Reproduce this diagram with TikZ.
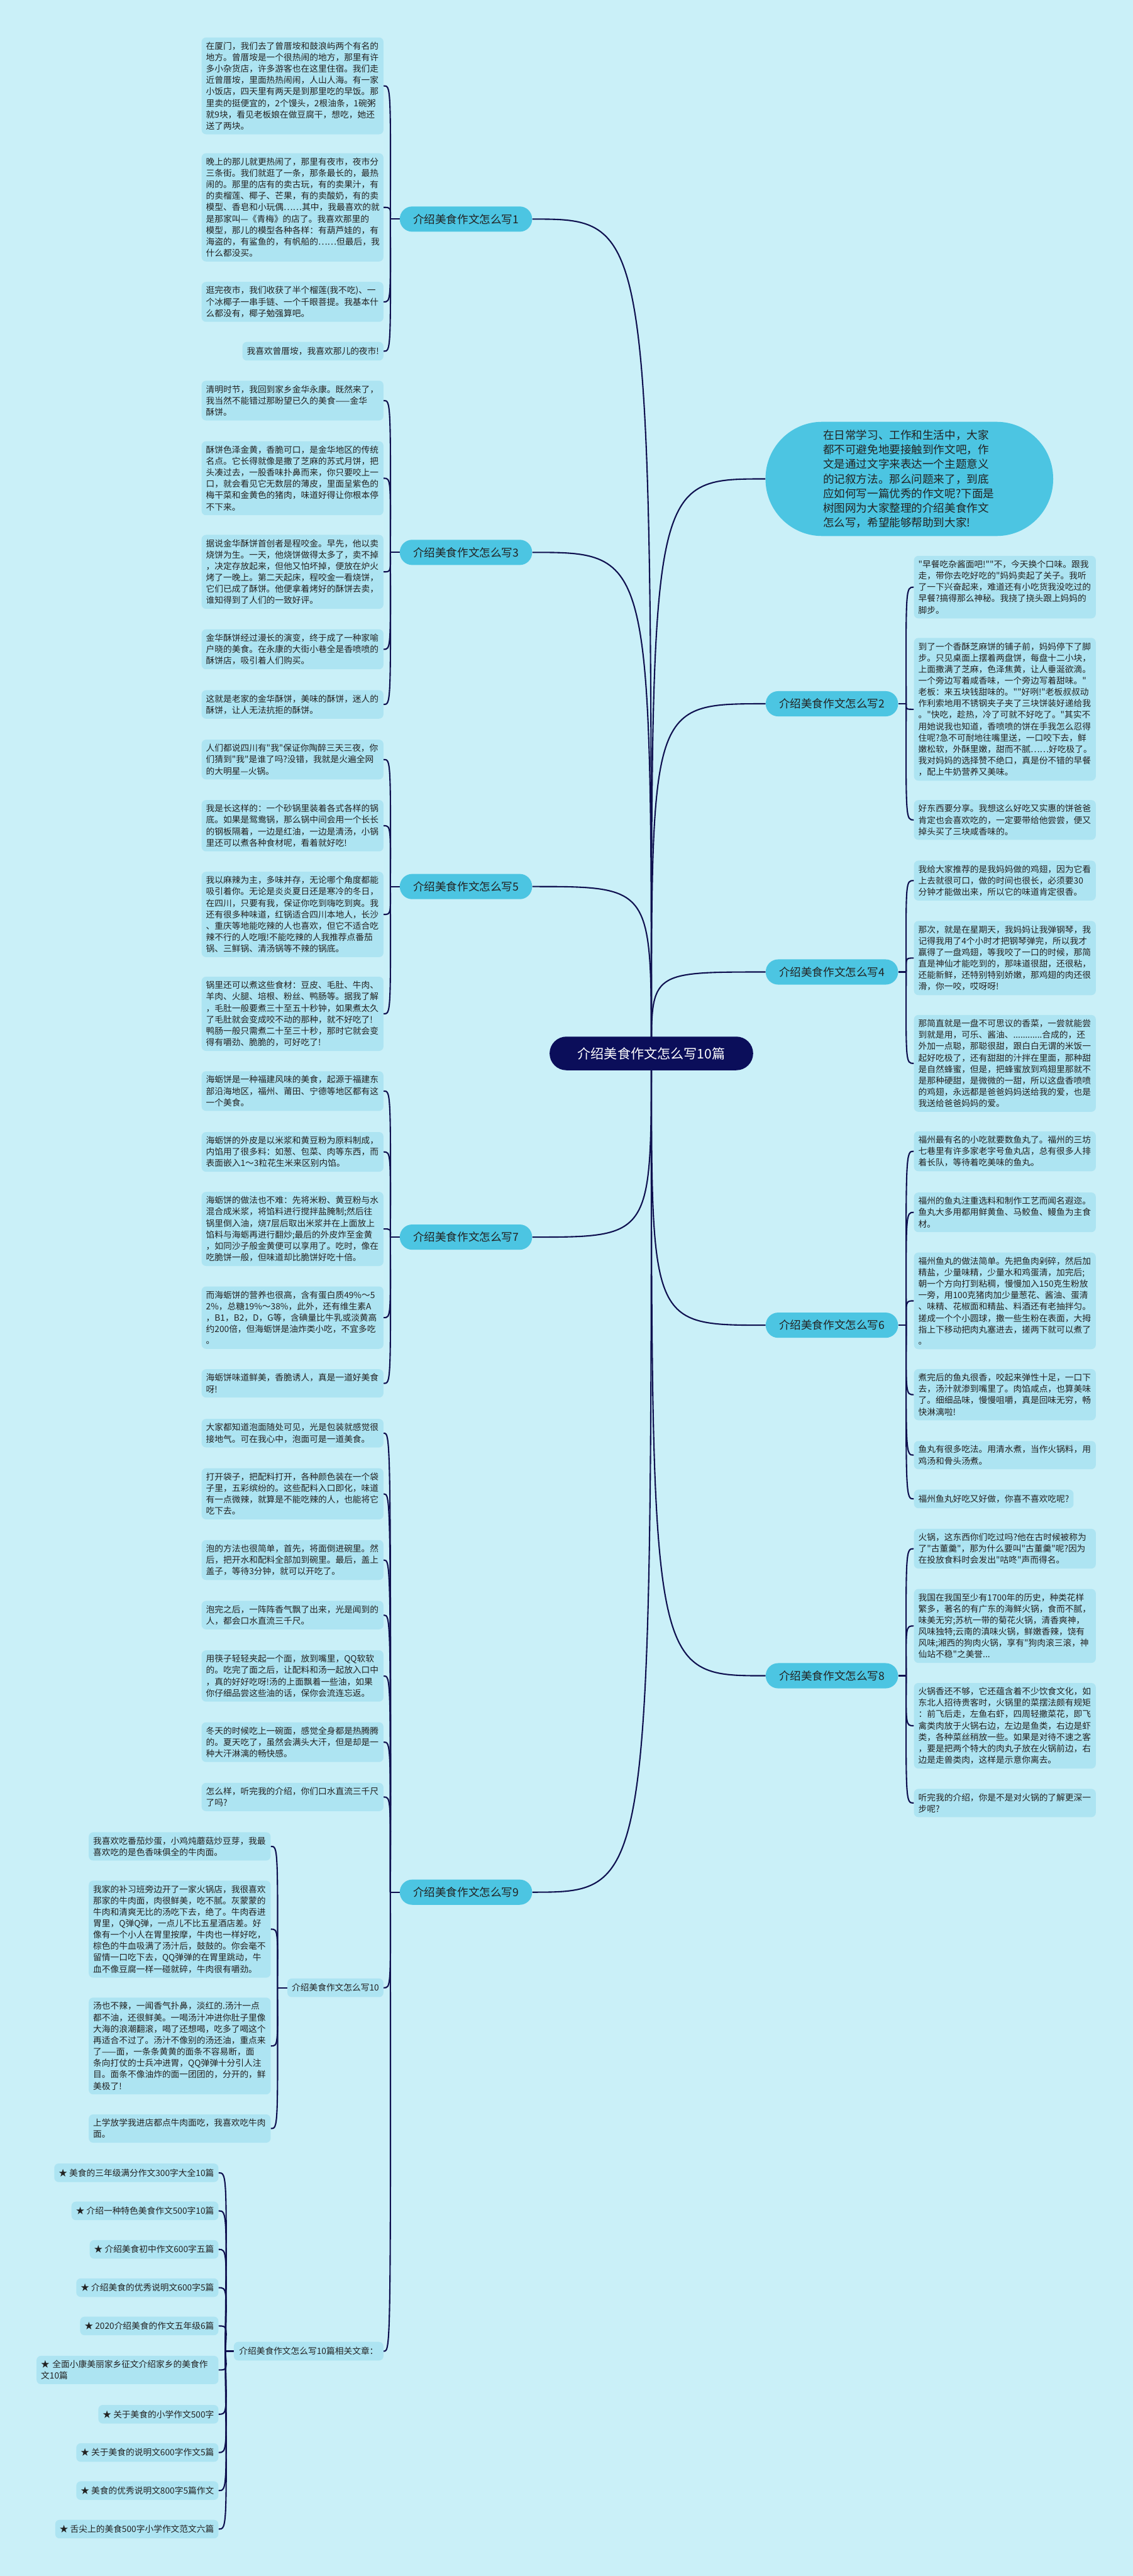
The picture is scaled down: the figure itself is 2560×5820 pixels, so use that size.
\documentclass[tikz,border=0pt]{standalone}
\usepackage{fontspec}
\setmainfont{Noto Sans CJK SC}
\newfontfamily\cjkfont{Noto Sans CJK SC}
\usepackage{tikz}
\definecolor{bgc}{HTML}{CAF0F8}
\definecolor{leafc}{HTML}{ADE4F2}
\definecolor{topicc}{HTML}{4CC5E2}
\definecolor{rootc}{HTML}{0B0E5A}
\definecolor{linec}{HTML}{0F1150}
\definecolor{textc}{HTML}{222222}
\newcommand{\leaffont}{\cjkfont\fontsize{9.75pt}{12.9pt}\selectfont}
\newcommand{\topicfont}{\cjkfont\fontsize{12.5pt}{16.5pt}\selectfont}
\tikzstyle{leaf}=[fill=leafc, text=textc, rounded corners=5pt, inner xsep=5pt, inner ysep=5pt, minimum height=21pt, font=\leaffont]
\tikzstyle{lbox}=[leaf, text width=195.5pt, align=left]
\tikzstyle{topic}=[fill=topicc, text=textc, rounded corners=14pt, minimum width=149.5pt, minimum height=28.5pt, font=\topicfont]
\tikzstyle{rootnode}=[fill=rootc, text=white, rounded corners=19pt, minimum width=230pt, minimum height=38pt, font=\cjkfont\fontsize{15pt}{18pt}\selectfont]
\tikzstyle{lnk}=[draw=linec, line width=1.5pt]
\pgfdeclarelayer{bg}
\pgfsetlayers{bg,main}

\begin{document}
\begin{tikzpicture}[x=0.5pt, y=-0.5pt]

      \useasboundingbox (0,0) rectangle (2560,5820);
      \begin{pgfonlayer}{bg}
        \fill[bgc] (0,0) rectangle (2560,5820);
      \end{pgfonlayer}

      \node[rootnode] (root) at (1472,2380) {介绍美食作文怎么写10篇};

      \node[topic] (t1) at (1053,495)  {介绍美食作文怎么写1};
      \node[topic] (t3) at (1053,1248) {介绍美食作文怎么写3};
      \node[topic] (t5) at (1053,2003) {介绍美食作文怎么写5};
      \node[topic] (t7) at (1053,2795) {介绍美食作文怎么写7};
      \node[topic] (t9) at (1053,4275) {介绍美食作文怎么写9};

      \node[topic] (t2) at (1880,1590) {介绍美食作文怎么写2};
      \node[topic] (t4) at (1880,2196) {介绍美食作文怎么写4};
      \node[topic] (t6) at (1880,2994) {介绍美食作文怎么写6};
      \node[topic] (t8) at (1880,3786) {介绍美食作文怎么写8};

      \node[topic, rounded corners=64pt, minimum width=325pt, minimum height=129pt,
            text width=195pt, align=left] (intro) at (2055,1082)
        {在日常学习、工作和生活中，大家\\都不可避免地要接触到作文吧，作\\文是通过文字来表达一个主题意义\\的记叙方法。那么问题来了，到底\\应如何写一篇优秀的作文呢?下面是\\树图网为大家整理的介绍美食作文\\怎么写，希望能够帮助到大家!};

      % 1
      \node[lbox, anchor=east] (t1a) at (867,194)
        {在厦门，我们去了曾厝垵和鼓浪屿两个有名的\\地方。曾厝垵是一个很热闹的地方，那里有许\\多小杂货店，许多游客也在这里住宿。我们走\\近曾厝垵，里面热热闹闹，人山人海。有一家\\小饭店，四天里有两天是到那里吃的早饭。那\\里卖的挺便宜的，2个馒头，2根油条，1碗粥\\就9块，看见老板娘在做豆腐干，想吃，她还\\送了两块。};
      \node[lbox, anchor=east] (t1b) at (867,468.5)
        {晚上的那儿就更热闹了，那里有夜市，夜市分\\三条街。我们就逛了一条，那条最长的，最热\\闹的。那里的店有的卖古玩，有的卖果汁，有\\的卖榴莲、椰子、芒果，有的卖酸奶，有的卖\\模型、香皂和小玩偶……其中，我最喜欢的就\\是那家叫—《青梅》的店了。我喜欢那里的\\模型，那儿的模型各种各样：有葫芦娃的，有\\海盗的，有鲨鱼的，有帆船的……但最后，我\\什么都没买。};
      \node[lbox, anchor=east] (t1c) at (867,682)
        {逛完夜市，我们收获了半个榴莲(我不吃)、一\\个冰椰子一串手链、一个千眼菩提。我基本什\\么都没有，椰子勉强算吧。};
      \node[leaf, anchor=east] (t1d) at (867,793.5) {我喜欢曾厝垵，我喜欢那儿的夜市!};

      % 3
      \node[lbox, anchor=east] (t3a) at (867,905)
        {清明时节，我回到家乡金华永康。既然来了，\\我当然不能错过那盼望已久的美食——金华\\酥饼。};
      \node[lbox, anchor=east] (t3b) at (867,1080.5)
        {酥饼色泽金黄，香脆可口，是金华地区的传统\\名点。它长得就像是撒了芝麻的苏式月饼，把\\头凑过去，一股香味扑鼻而来，你只要咬上一\\口，就会看见它无数层的薄皮，里面呈紫色的\\梅干菜和金黄色的猪肉，味道好得让你根本停\\不下来。};
      \node[lbox, anchor=east] (t3c) at (867,1292)
        {据说金华酥饼首创者是程咬金。早先，他以卖\\烧饼为生。一天，他烧饼做得太多了，卖不掉\\，决定存放起来，但他又怕坏掉，便放在炉火\\烤了一晚上。第二天起床，程咬金一看烧饼，\\它们已成了酥饼。他便拿着烤好的酥饼去卖，\\谁知得到了人们的一致好评。};
      \node[lbox, anchor=east] (t3d) at (867,1467)
        {金华酥饼经过漫长的演变，终于成了一种家喻\\户晓的美食。在永康的大街小巷全是香喷喷的\\酥饼店，吸引着人们购买。};
      \node[lbox, anchor=east] (t3e) at (867,1591.5)
        {这就是老家的金华酥饼，美味的酥饼，迷人的\\酥饼，让人无法抗拒的酥饼。};

      % 5
      \node[lbox, anchor=east] (t5a) at (867,1716)
        {人们都说四川有"我"保证你陶醉三天三夜，你\\们猜到"我"是谁了吗?没错，我就是火遍全网\\的大明星—火锅。};
      \node[lbox, anchor=east] (t5b) at (867,1865.5)
        {我是长这样的：一个砂锅里装着各式各样的锅\\底。如果是鸳鸯锅，那么锅中间会用一个长长\\的钢板隔着，一边是红油，一边是清汤，小锅\\里还可以煮各种食材呢，看着就好吃!};
      \node[lbox, anchor=east] (t5c) at (867,2066)
        {我以麻辣为主，多味并存，无论哪个角度都能\\吸引着你。无论是炎炎夏日还是寒冷的冬日，\\在四川，只要有我，保证你吃到嗨吃到爽。我\\还有很多种味道，红锅适合四川本地人，长沙\\、重庆等地能吃辣的人也喜欢，但它不适合吃\\辣不行的人吃哦!不能吃辣的人我推荐点番茄\\锅、三鲜锅、清汤锅等不辣的锅底。};
      \node[lbox, anchor=east] (t5d) at (867,2290.5)
        {锅里还可以煮这些食材：豆皮、毛肚、牛肉、\\羊肉、火腿、培根、粉丝、鸭肠等。据我了解\\，毛肚一般要煮三十至五十秒钟，如果煮太久\\了毛肚就会变成咬不动的那种，就不好吃了!\\鸭肠一般只需煮二十至三十秒，那时它就会变\\得有嚼劲、脆脆的，可好吃了!};

      % 7
      \node[lbox, anchor=east] (t7a) at (867,2465)
        {海蛎饼是一种福建风味的美食，起源于福建东\\部沿海地区，福州、莆田、宁德等地区都有这\\一个美食。};
      \node[lbox, anchor=east] (t7b) at (867,2602.5)
        {海蛎饼的外皮是以米浆和黄豆粉为原料制成，\\内馅用了很多料：如葱、包菜、肉等东西，而\\表面嵌入1～3粒花生米来区别内馅。};
      \node[lbox, anchor=east] (t7c) at (867,2776.5)
        {海蛎饼的做法也不难：先将米粉、黄豆粉与水\\混合成米浆，将馅料进行搅拌盐腌制;然后往\\锅里倒入油，烧7层后取出米浆并在上面放上\\馅料与海蛎再进行翻炒;最后的外皮炸至金黄\\，如同沙子般金黄便可以享用了。吃时，像在\\吃脆饼一般，但味道却比脆饼好吃十倍。};
      \node[lbox, anchor=east] (t7d) at (867,2977)
        {而海蛎饼的营养也很高，含有蛋白质49\%～5\\2\%，总糖19\%～38\%，此外，还有维生素A\\，B1，B2，D，G等，含碘量比牛乳或淡黄高\\约200倍，但海蛎饼是油炸类小吃，不宜多吃\\。};
      \node[lbox, anchor=east] (t7e) at (867,3125.5)
        {海蛎饼味道鲜美，香脆诱人，真是一道好美食\\呀!};

      % 9
      \node[lbox, anchor=east] (t9a) at (867,3238)
        {大家都知道泡面随处可见，光是包装就感觉很\\接地气。可在我心中，泡面可是一道美食。};
      \node[lbox, anchor=east] (t9b) at (867,3375)
        {打开袋子，把配料打开，各种颜色装在一个袋\\子里，五彩缤纷的。这些配料入口即化，味道\\有一点微辣，就算是不能吃辣的人，也能将它\\吃下去。};
      \node[lbox, anchor=east] (t9c) at (867,3524.5)
        {泡的方法也很简单，首先，将面倒进碗里。然\\后，把开水和配料全部加到碗里。最后，盖上\\盖子，等待3分钟，就可以开吃了。};
      \node[lbox, anchor=east] (t9d) at (867,3649)
        {泡完之后，一阵阵香气飘了出来，光是闻到的\\人，都会口水直流三千尺。};
      \node[lbox, anchor=east] (t9e) at (867,3786.5)
        {用筷子轻轻夹起一个面，放到嘴里，QQ软软\\的。吃完了面之后，让配料和汤一起放入口中\\，真的好好吃呀!汤的上面飘着一些油，如果\\你仔细品尝这些油的话，保你会流连忘返。};
      \node[lbox, anchor=east] (t9f) at (867,3936)
        {冬天的时候吃上一碗面，感觉全身都是热腾腾\\的。夏天吃了，虽然会满头大汗，但是却是一\\种大汗淋漓的畅快感。};
      \node[lbox, anchor=east] (t9g) at (867,4060)
        {怎么样，听完我的介绍，你们口水直流三千尺\\了吗?};
      \node[leaf, anchor=east] (t10) at (867,4491) {介绍美食作文怎么写10};
      \node[leaf, anchor=east, inner xsep=6pt] (rel) at (867,5312) {介绍美食作文怎么写10篇相关文章：};

      % 10
      \node[lbox, anchor=east] (t10a) at (612,4171.5)
        {我喜欢吃番茄炒蛋，小鸡炖蘑菇炒豆芽，我最\\喜欢吃的是色香味俱全的牛肉面。};
      \node[lbox, anchor=east] (t10b) at (612,4358.5)
        {我家的补习班旁边开了一家火锅店，我很喜欢\\那家的牛肉面，肉很鲜美，吃不腻。灰蒙蒙的\\牛肉和清爽无比的汤吃下去，绝了。牛肉吞进\\胃里，Q弹Q弹，一点儿不比五星酒店差。好\\像有一个小人在胃里按摩，牛肉也一样好吃，\\棕色的牛血吸满了汤汁后，鼓鼓的。你会毫不\\留情一口吃下去，QQ弹弹的在胃里跳动，牛\\血不像豆腐一样一碰就碎，牛肉很有嚼劲。};
      \node[lbox, anchor=east] (t10c) at (612,4622.5)
        {汤也不辣，一闻香气扑鼻，淡红的.汤汁一点\\都不油，还很鲜美。一喝汤汁冲进你肚子里像\\大海的浪潮翻滚，喝了还想喝，吃多了喝这个\\再适合不过了。汤汁不像别的汤还油，重点来\\了——面，一条条黄黄的面条不容易断，面\\条向打仗的士兵冲进胃，QQ弹弹十分引人注\\目。面条不像油炸的面一团团的，分开的，鲜\\美极了!};
      \node[lbox, anchor=east] (t10d) at (612,4809)
        {上学放学我进店都点牛肉面吃，我喜欢吃牛肉\\面。};

      % related
      \node[leaf, anchor=east] (r1)  at (494,4909)   {★ 美食的三年级满分作文300字大全10篇};
      \node[leaf, anchor=east] (r2)  at (494,4995)   {★ 介绍一种特色美食作文500字10篇};
      \node[leaf, anchor=east] (r3)  at (494,5082)   {★ 介绍美食初中作文600字五篇};
      \node[leaf, anchor=east] (r4)  at (494,5168.5) {★ 介绍美食的优秀说明文600字5篇};
      \node[leaf, anchor=east] (r5)  at (494,5255)   {★ 2020介绍美食的作文五年级6篇};
      \node[lbox, anchor=east] (r6)  at (494,5354.5) {★ 全面小康美丽家乡征文介绍家乡的美食作\\文10篇};
      \node[leaf, anchor=east] (r7)  at (494,5454.5) {★ 关于美食的小学作文500字};
      \node[leaf, anchor=east] (r8)  at (494,5541)   {★ 关于美食的说明文600字作文5篇};
      \node[leaf, anchor=east] (r9)  at (494,5627)   {★ 美食的优秀说明文800字5篇作文};
      \node[leaf, anchor=east] (r10) at (494,5714)   {★ 舌尖上的美食500字小学作文范文六篇};

      % 2
      \node[lbox, anchor=west] (t2a) at (2065,1326.5)
        {"早餐吃杂酱面吧!""不，今天换个口味。跟我\\走，带你去吃好吃的"妈妈卖起了关子。我听\\了一下兴奋起来，难道还有小吃货我没吃过的\\早餐?搞得那么神秘。我挠了挠头跟上妈妈的\\脚步。};
      \node[lbox, anchor=west] (t2b) at (2065,1602.5)
        {到了一个香酥芝麻饼的铺子前，妈妈停下了脚\\步。只见桌面上摆着两盘饼，每盘十二小块，\\上面撒满了芝麻，色泽焦黄，让人垂涎欲滴。\\一个旁边写着咸香味，一个旁边写着甜味。"\\老板：来五块钱甜味的。""好咧!"老板叔叔动\\作利索地用不锈钢夹子夹了三块饼装好递给我\\。"快吃，趁热，冷了可就不好吃了。"其实不\\用她说我也知道，香喷喷的饼在手我怎么忍得\\住呢?急不可耐地往嘴里送，一口咬下去，鲜\\嫩松软，外酥里嫩，甜而不腻……好吃极了。\\我对妈妈的选择赞不绝口，真是份不错的早餐\\，配上牛奶营养又美味。};
      \node[lbox, anchor=west] (t2c) at (2065,1852.5)
        {好东西要分享。我想这么好吃又实惠的饼爸爸\\肯定也会喜欢吃的，一定要带给他尝尝，便又\\掉头买了三块咸香味的。};

      % 4
      \node[lbox, anchor=west] (t4a) at (2065,1989.5)
        {我给大家推荐的是我妈妈做的鸡翅，因为它看\\上去就很可口，做的时间也很长，必须要30\\分钟才能做出来，所以它的味道肯定很香。};
      \node[lbox, anchor=west] (t4b) at (2065,2164.5)
        {那次，就是在星期天，我妈妈让我弹钢琴，我\\记得我用了4个小时才把钢琴弹完，所以我才\\赢得了一盘鸡翅，等我咬了一口的时候，那简\\直是神仙才能吃到的，那味道很甜，还很粘，\\还能新鲜，还特别特别娇嫩，那鸡翅的肉还很\\滑，你一咬，哎呀呀!};
      \node[lbox, anchor=west] (t4c) at (2065,2402.5)
        {那简直就是一盘不可思议的香菜，一尝就能尝\\到就是用，可乐、酱油、............合成的，还\\外加一点聪，那聪很甜，跟白白无谓的米饭一\\起好吃极了，还有甜甜的汁拌在里面，那种甜\\是自然蜂蜜，但是，把蜂蜜放到鸡翅里那就不\\是那种硬甜，是微微的一甜，所以这盘香喷喷\\的鸡翅，永远都是爸爸妈妈送给我的爱，也是\\我送给爸爸妈妈的爱。};

      % 6
      \node[lbox, anchor=west] (t6a) at (2065,2601)
        {福州最有名的小吃就要数鱼丸了。福州的三坊\\七巷里有许多家老字号鱼丸店，总有很多人排\\着长队，等待着吃美味的鱼丸。};
      \node[lbox, anchor=west] (t6b) at (2065,2739)
        {福州的鱼丸注重选料和制作工艺而闻名遐迩。\\鱼丸大多用都用鲜黄鱼、马鲛鱼、鳗鱼为主食\\材。};
      \node[lbox, anchor=west] (t6c) at (2065,2939)
        {福州鱼丸的做法简单。先把鱼肉剁碎，然后加\\精盐，少量味精，少量水和鸡蛋清，加完后;\\朝一个方向打到粘稠，慢慢加入150克生粉放\\一旁，用100克猪肉加少量葱花、酱油、蛋清\\、味精、花椒面和精盐、料酒还有老抽拌匀。\\搓成一个个小圆球，撒一些生粉在表面，大拇\\指上下移动把肉丸塞进去，搓两下就可以煮了\\。};
      \node[lbox, anchor=west] (t6d) at (2065,3151)
        {煮完后的鱼丸很香，咬起来弹性十足，一口下\\去，汤汁就渗到嘴里了。肉馅咸点，也算美味\\了。细细品味，慢慢咀嚼，真是回味无穷，畅\\快淋漓啦!};
      \node[lbox, anchor=west] (t6e) at (2065,3287.5)
        {鱼丸有很多吃法。用清水煮，当作火锅料，用\\鸡汤和骨头汤煮。};
      \node[leaf, anchor=west] (t6f) at (2065,3386.5) {福州鱼丸好吃又好做，你喜不喜欢吃呢?};

      % 8
      \node[lbox, anchor=west] (t8a) at (2065,3499)
        {火锅，这东西你们吃过吗?他在古时候被称为\\了"古董羹"，那为什么要叫"古董羹"呢?因为\\在投放食料时会发出"咕咚"声而得名。};
      \node[lbox, anchor=west] (t8b) at (2065,3673.5)
        {我国在我国至少有1700年的历史，种类花样\\繁多，著名的有广东的海鲜火锅，食而不腻，\\味美无穷;苏杭一带的菊花火锅，清香爽神，\\风味独特;云南的滇味火锅，鲜嫩香辣，饶有\\风味;湘西的狗肉火锅，享有"狗肉滚三滚，神\\仙站不稳"之美誉...};
      \node[lbox, anchor=west] (t8c) at (2065,3899)
        {火锅香还不够，它还蕴含着不少饮食文化，如\\东北人招待贵客时，火锅里的菜摆法颇有规矩\\：前飞后走，左鱼右虾，四周轻撒菜花，即飞\\禽类肉放于火锅右边，左边是鱼类，右边是虾\\类，各种菜丝稍放一些。如果是对待不速之客\\，要是把两个特大的肉丸子放在火锅前边，右\\边是走兽类肉，这样是示意你离去。};
      \node[lbox, anchor=west] (t8d) at (2065,4073.5)
        {听完我的介绍，你是不是对火锅的了解更深一\\步呢?};

      % junctions
      \foreach \t in {t1,t3,t5,t7,t9}
        \coordinate (j\t) at ([xshift=-10.5pt]\t.west);
      \foreach \t in {t2,t4,t6,t8}
        \coordinate (j\t) at ([xshift=9pt]\t.east);
      \coordinate (jt10) at ([xshift=-11pt]t10.west);
      \coordinate (jrel) at ([xshift=-9.5pt]rel.west);

      \begin{pgfonlayer}{bg}
      % root
      \foreach \t in {t1,t3,t5,t7,t9}
        \draw[lnk] (root.center) .. controls (root.center |- \t.east) .. (\t.east);
      \foreach \t in {intro,t2,t4,t6,t8}
        \draw[lnk] (root.center) .. controls (root.center |- \t.west) .. (\t.west);

      % left
      \foreach \t in {t1,t3,t5,t7,t9,t10,rel}
        \draw[lnk] (\t.west) -- (j\t);
      \foreach \p in {t1a,t1b,t1c,t1d}
        \draw[lnk] (jt1) .. controls ([xshift=8pt]\p.east) .. (\p.east);
      \foreach \p in {t3a,t3b,t3c,t3d,t3e}
        \draw[lnk] (jt3) .. controls ([xshift=8pt]\p.east) .. (\p.east);
      \foreach \p in {t5a,t5b,t5c,t5d}
        \draw[lnk] (jt5) .. controls ([xshift=8pt]\p.east) .. (\p.east);
      \foreach \p in {t7a,t7b,t7c,t7d,t7e}
        \draw[lnk] (jt7) .. controls ([xshift=8pt]\p.east) .. (\p.east);
      \foreach \p in {t9a,t9b,t9c,t9d,t9e,t9f,t9g,t10,rel}
        \draw[lnk] (jt9) .. controls ([xshift=8pt]\p.east) .. (\p.east);
      \foreach \p in {t10a,t10b,t10c,t10d}
        \draw[lnk] (jt10) .. controls ([xshift=8pt]\p.east) .. (\p.east);
      \foreach \p in {r1,r2,r3,r4,r5,r6,r7,r8,r9,r10}
        \draw[lnk] (jrel) .. controls ([xshift=9.5pt]\p.east) .. (\p.east);

      % right
      \foreach \t in {t2,t4,t6,t8}
        \draw[lnk] (\t.east) -- (j\t);
      \foreach \p in {t2a,t2b,t2c}
        \draw[lnk] (jt2) .. controls ([xshift=-9pt]\p.west) .. (\p.west);
      \foreach \p in {t4a,t4b,t4c}
        \draw[lnk] (jt4) .. controls ([xshift=-9pt]\p.west) .. (\p.west);
      \foreach \p in {t6a,t6b,t6c,t6d,t6e,t6f}
        \draw[lnk] (jt6) .. controls ([xshift=-9pt]\p.west) .. (\p.west);
      \foreach \p in {t8a,t8b,t8c,t8d}
        \draw[lnk] (jt8) .. controls ([xshift=-9pt]\p.west) .. (\p.west);
      \end{pgfonlayer}

\end{tikzpicture}
\end{document}
